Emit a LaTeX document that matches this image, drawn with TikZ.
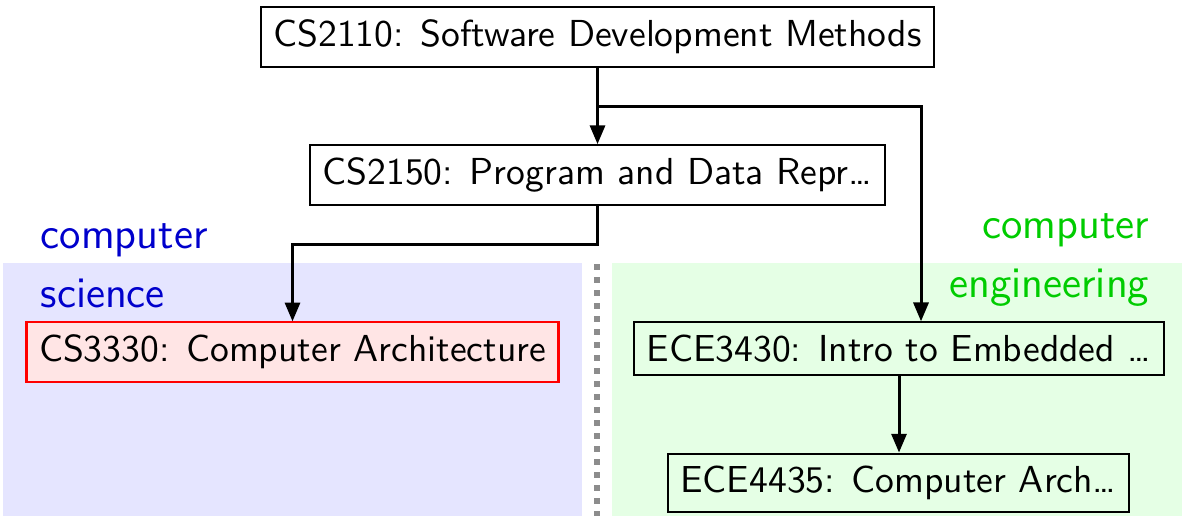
\documentclass[tikz,border=0pt]{standalone}
\usetikzlibrary{arrows.meta}
\begin{document}
\begin{tikzpicture}[x=0.266pt,y=-0.266pt,
  font=\sffamily\fontsize{10}{12}\selectfont,
  course/.style={draw=black,line width=0.55pt,fill=white,inner sep=3.33pt},
  arr/.style={line width=0.8pt,-{Triangle[length=5pt,width=4pt]}},
  lbl/.style={font=\sffamily\fontsize{11.6}{15.5}\selectfont,inner sep=0pt}]
\useasboundingbox (0,0) rectangle (1182,516);
% regions
\fill[blue!10] (3,263) rectangle (582,516);
\fill[green!10] (612,263) rectangle (1182,516);
\draw[black!45,line width=1.6pt,dash pattern=on 1.6pt off 1.86pt] (597,264) -- (597,516);
% labels
\node[lbl,blue!80!black,anchor=base west,align=left] (cslbl) at (40,307) {computer\\science};
\node[lbl,green!80!black,anchor=base east,align=right] (celbl) at (1150,297) {computer\\engineering};
% nodes
\node[course] (cs2110) at (597.5,37) {CS2110: Software Development Methods};
\node[course] (cs2150) at (597.5,175) {CS2150: Program and Data Repr\ldots};
\node[course,draw=red,fill=red!10] (cs3330) at (292.5,352) {CS3330: Computer Architecture};
\node[course,fill=green!10] (ece3430) at (899,348.5) {ECE3430: Intro to Embedded \ldots};
\node[course,fill=green!10] (ece4435) at (898.5,483) {ECE4435: Computer Arch\ldots};
% connectors
\coordinate (b1) at (597.5,106);
\coordinate (b2) at (597.5,244);
\draw[arr] (cs2110.south) -- (cs2150.north);
\draw[arr] (b1) -| ([xshift=5.85pt]ece3430.north);
\draw[arr] (cs2150.south) -- (b2) -| (cs3330.north);
\draw[arr] (ece3430.south) -- (ece3430.south |- ece4435.north);
\end{tikzpicture}
\end{document}
